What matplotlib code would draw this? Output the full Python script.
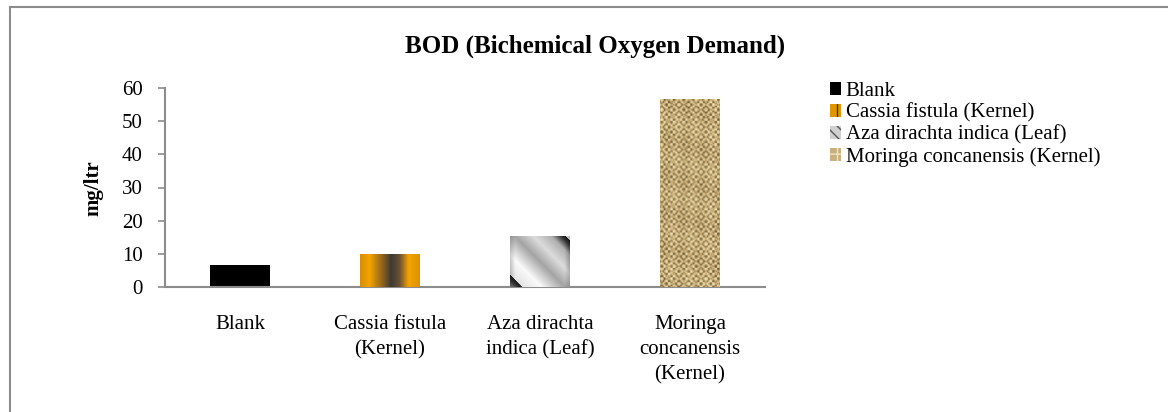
#!/usr/bin/env python3

import matplotlib
matplotlib.use('Agg')
import matplotlib.pyplot as plt
from matplotlib.colors import LinearSegmentedColormap
from matplotlib.patches import Patch
import matplotlib.lines as mlines
import numpy as np

categories = ['Blank', 'Cassia fistula\n(Kernel)', 'Aza dirachta\nindica (Leaf)',
              'Moringa\nconcanensis\n(Kernel)']
legend_labels = ['Blank', 'Cassia fistula (Kernel)', 'Aza dirachta indica (Leaf)',
                 'Moringa concanensis (Kernel)']
bod = [6.5, 9.8, 15.5, 56.8]
yticks = [0, 10, 20, 30, 40, 50, 60]

plt.rcParams['font.family'] = ['Liberation Serif', 'DejaVu Serif']
plt.rcParams['font.size'] = 15

W, H = 1168, 412
AXIS_GREY = '#8c8c8c'


def cassia_img(n=64):
    cmap = LinearSegmentedColormap.from_list('cassia', [
        (0.0, '#d88e00'), (0.15, '#f4a400'), (0.35, '#9a6a1c'),
        (0.52, '#3c3935'), (0.66, '#6a5030'), (0.82, '#f4a400'), (1.0, '#dc9200')])
    row = np.linspace(0, 1, n)
    return cmap(np.tile(row, (4, 1)))


def aza_img(w=61, h=52):
    # sawtooth diagonal stripes: slow darkening, then a sharp jump back to light
    cmap = LinearSegmentedColormap.from_list('aza', [
        (0.0, '#e4e4e4'), (0.2, '#fafafa'), (0.45, '#a4a4a4'), (0.65, '#dcdcdc'),
        (0.84, '#b0b0b0'), (0.94, '#3a3a3a'), (1.0, '#121212')])
    x = np.arange(w)[None, :]
    yup = np.arange(h)[::-1][:, None]
    period = 95.0
    t = ((x + yup + period - 12) / period) % 1.0
    img = cmap(t)
    edge = np.minimum(x, w - 1 - x) / 5.0
    shade = 0.82 + 0.18 * np.clip(edge, 0, 1)
    img[..., :3] *= shade[..., None]
    return img


def moringa_img(w=61, h=190):
    x = np.arange(w)[None, :]
    y = np.arange(h)[:, None]
    weave = (np.sin(2 * np.pi * x / 5.0) * np.sign(np.sin(2 * np.pi * y / 9.0 + 0.3))
             + np.sin(2 * np.pi * y / 5.0) * np.sign(np.sin(2 * np.pi * x / 9.0 + 0.7)))
    mottle = 0.35 * np.sin(x / 7.0 + y / 11.0) * np.sin(y / 13.0 - x / 5.0)
    t = weave + mottle
    t = (t - t.min()) / (t.max() - t.min())
    cmap = LinearSegmentedColormap.from_list('burlap', [
        (0.0, '#6e5a36'), (0.35, '#ae9260'), (0.65, '#d4bf8a'), (1.0, '#f2e6b8')])
    return cmap(t)


def main():
    fig = plt.figure(figsize=(W / 100, H / 100), dpi=100)
    # axis box: x 165..765 px, y 88..287 px
    ax = fig.add_axes([165 / W, 1 - 287 / H, 600 / W, 199 / H])

    x = np.arange(len(categories))
    width = 0.4
    bars = ax.bar(x, bod, width, color=['black', '#e09600', '#cccccc', '#c8b080'],
                  linewidth=0, zorder=2)

    fills = [None, cassia_img(), aza_img(), moringa_img()]
    for bar, img in zip(bars, fills):
        if img is None:
            continue
        x0 = bar.get_x()
        im = ax.imshow(img, extent=[x0, x0 + bar.get_width(), 0, bar.get_height()],
                       aspect='auto', interpolation='bilinear', zorder=3)
        im.set_clip_path(bar)

    ax.set_xlim(-0.5, len(categories) - 0.5)
    ax.set_ylim(0, 60)
    ax.set_yticks(yticks)
    ax.set_xticks(x)
    ax.set_xticklabels(categories, linespacing=1.45)
    ax.tick_params(axis='x', length=0, pad=20)
    ax.tick_params(axis='y', length=5, width=1.2, color=AXIS_GREY, direction='out', pad=11)
    for side in ['top', 'right']:
        ax.spines[side].set_visible(False)
    for side in ['left', 'bottom']:
        ax.spines[side].set_color(AXIS_GREY)
        ax.spines[side].set_linewidth(1.5)

    fig.text(93 / W, 1 - 188 / H, 'mg/ltr', rotation=90, fontweight='bold',
             ha='center', va='center', fontsize=15)
    fig.text(595 / W, 1 - 46 / H, 'BOD (Bichemical Oxygen Demand)', fontweight='bold',
             ha='center', va='center', fontsize=18)

    handles = [
        Patch(facecolor='black', edgecolor='none'),
        Patch(facecolor='#e09600', edgecolor='#3c3935', hatch='||', linewidth=0),
        Patch(facecolor='#d0d0d0', edgecolor='#555555', hatch='\\\\\\', linewidth=0),
        Patch(facecolor='#c8b080', edgecolor='#f0e4c0', hatch='++', linewidth=0),
    ]
    fig.legend(handles, legend_labels, loc='upper left', bbox_to_anchor=(830 / W, 1 - 82 / H),
               frameon=False, handlelength=0.55, handleheight=0.55, handletextpad=0.2,
               labelspacing=0.12, borderpad=0, borderaxespad=0, fontsize=15)

    # outer frame, only top and left edges are visible in the crop
    fig.add_artist(mlines.Line2D([10 / W, 10 / W], [0, 1 - 7 / H],
                                 color=AXIS_GREY, linewidth=1.5))
    fig.add_artist(mlines.Line2D([10 / W, 1], [1 - 7 / H, 1 - 7 / H],
                                 color=AXIS_GREY, linewidth=1.5))

    fig.savefig('out.png', dpi=100)


if __name__ == '__main__':
    main()
